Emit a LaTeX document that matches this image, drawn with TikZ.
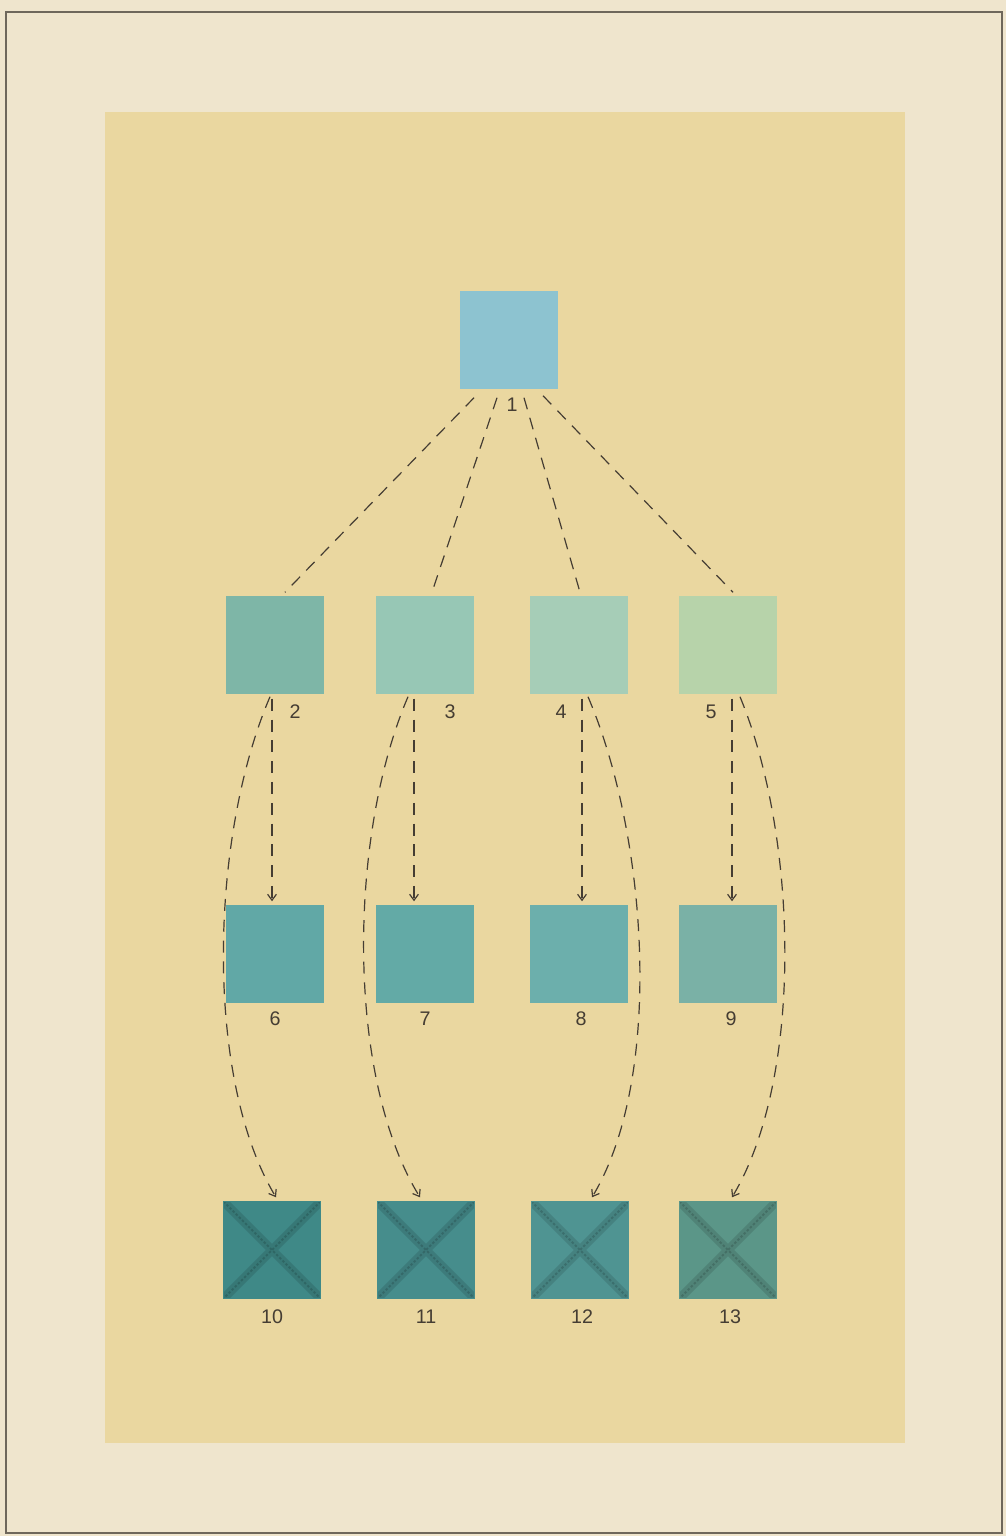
\documentclass[tikz,border=0pt]{standalone}
\usepackage{fontspec}
\newfontfamily\platefont{Liberation Sans}
\usetikzlibrary{arrows.meta,calc}
\definecolor{paper}{HTML}{EFE5CD}
\definecolor{panel}{HTML}{EAD7A0}
\definecolor{frame}{HTML}{6E675B}
\definecolor{ink}{HTML}{453D33}
\definecolor{skyblue}{HTML}{8DC3D0}
\definecolor{tealA}{HTML}{7EB6A7}
\definecolor{tealB}{HTML}{97C7B5}
\definecolor{tealC}{HTML}{A6CDB7}
\definecolor{tealD}{HTML}{B7D3AA}
\definecolor{midA}{HTML}{61A8A6}
\definecolor{midB}{HTML}{63AAA6}
\definecolor{midC}{HTML}{6CAFAC}
\definecolor{midD}{HTML}{7AB1A6}
\definecolor{deepA}{HTML}{3F8987}
\definecolor{deepB}{HTML}{468D8C}
\definecolor{deepC}{HTML}{4F9492}
\definecolor{deepD}{HTML}{5B9688}
\tikzset{
  swatch/.style={rectangle, draw=#1, fill=#1, line width=0.2pt,
                 minimum size=24.3mm, inner sep=0pt},
  crossed/.style={path picture={
      \draw[line width=2.2mm, draw=#1, opacity=0.22]
        (path picture bounding box.north west) -- (path picture bounding box.south east)
        (path picture bounding box.north east) -- (path picture bounding box.south west);
      \draw[line width=0.5mm, draw=#1, opacity=0.3, dash pattern=on 0.6mm off 0.5mm]
        (path picture bounding box.north west) -- (path picture bounding box.south east)
        (path picture bounding box.north east) -- (path picture bounding box.south west);}},
  num/.style={font=\platefont\fontsize{14}{14}\selectfont, text=ink, inner sep=1pt},
  link/.style={draw=ink, line width=0.3mm, dash pattern=on 3mm off 2.2mm},
  arrowlink/.style={link, -{Straight Barb[length=1.5mm,width=2.2mm]}},
}
\begin{document}
\begin{tikzpicture}[x=0.25mm,y=-0.25mm]
  \useasboundingbox (0,0) rectangle (1006,1536);
  % paper and plate
  \fill[paper] (0,0) rectangle (1006,1536);
  \draw[frame, line width=0.45mm] (6,12) rectangle (1002,1533);
  \fill[panel] (105,112) rectangle (905,1443);

  % top swatch
  \node[swatch=skyblue] (sq1) at (509,340) {};
  \node[num] (n1) at (512,405) {1};

  % second row
  \node[swatch=tealA] (sq2) at (275,645) {};
  \node[swatch=tealB] (sq3) at (425,645) {};
  \node[swatch=tealC] (sq4) at (579,645) {};
  \node[swatch=tealD] (sq5) at (728,645) {};
  \node[num] (n2) at (295,712) {2};
  \node[num] (n3) at (450,712) {3};
  \node[num] (n4) at (561,712) {4};
  \node[num] (n5) at (711,712) {5};

  % third row
  \node[swatch=midA] (sq6) at (275,954) {};
  \node[swatch=midB] (sq7) at (425,954) {};
  \node[swatch=midC] (sq8) at (579,954) {};
  \node[swatch=midD] (sq9) at (728,954) {};
  \node[num] (n6) at (275,1019) {6};
  \node[num] (n7) at (425,1019) {7};
  \node[num] (n8) at (581,1019) {8};
  \node[num] (n9) at (731,1019) {9};

  % fourth row, crossed
  \node[swatch=deepA, crossed=deepA!45!black] (sq10) at (272,1250) {};
  \node[swatch=deepB, crossed=deepB!45!black] (sq11) at (426,1250) {};
  \node[swatch=deepC, crossed=deepC!45!black] (sq12) at (580,1250) {};
  \node[swatch=deepD, crossed=deepD!45!black] (sq13) at (728,1250) {};
  \node[num] (n10) at (272,1317) {10};
  \node[num] (n11) at (426,1317) {11};
  \node[num] (n12) at (582,1317) {12};
  \node[num] (n13) at (730,1317) {13};

  % from the top swatch
  \draw[link] ($(sq1.south)+(-35,9)$) -- ($(sq2.north)+(10,-4)$);
  \draw[link] ($(sq1.south)+(-12,9)$) -- ($(sq3.north)+(7,-4)$);
  \draw[link] ($(sq1.south)+(15,9)$) -- ($(sq4.north)+(1,-4)$);
  \draw[link] ($(sq1.south)+(34,7)$) -- ($(sq5.north)+(5,-4)$);

  % straight down
  \draw[arrowlink] ($(sq2.south)+(-3,5)$) -- ($(sq6.north)+(-3,-4)$);
  \draw[arrowlink] ($(sq3.south)+(-11,5)$) -- ($(sq7.north)+(-11,-4)$);
  \draw[arrowlink] ($(sq4.south)+(3,5)$) -- ($(sq8.north)+(3,-4)$);
  \draw[arrowlink] ($(sq5.south)+(4,5)$) -- ($(sq9.north)+(4,-4)$);

  % curved to the last row
  \draw[arrowlink] ($(sq2.south)+(-5,3)$) .. controls +(-60,140) and +(-72,-120) .. ($(sq10.north)+(4,-4)$);
  \draw[arrowlink] ($(sq3.south)+(-17,3)$) .. controls +(-60,140) and +(-74,-120) .. ($(sq11.north)+(-6,-4)$);
  \draw[arrowlink] ($(sq4.south)+(9,3)$) .. controls +(60,140) and +(72,-120) .. ($(sq12.north)+(12,-4)$);
  \draw[arrowlink] ($(sq5.south)+(12,3)$) .. controls +(58,140) and +(72,-120) .. ($(sq13.north)+(4,-4)$);
\end{tikzpicture}
\end{document}
